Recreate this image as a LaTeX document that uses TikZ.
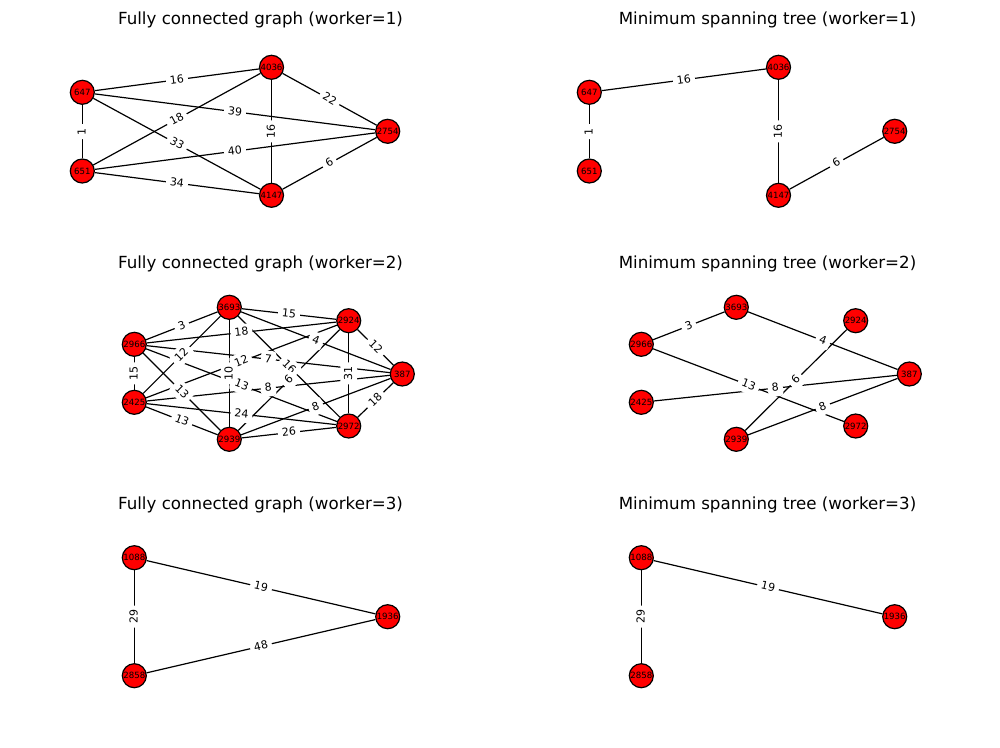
\documentclass[tikz,border=0pt]{standalone}
\usepackage{fontspec}
\setmainfont{DejaVu Sans}
\begin{document}
\begin{tikzpicture}[x=1pt,y=-1pt,
  vtx/.style={circle, draw=black, fill=red, line width=1.2pt, minimum size=24pt,
    inner sep=0pt, font=\fontsize{8.6}{8.6}\selectfont},
  link/.style={line width=1.2pt},
  wlbl/.style={fill=white, rounded corners=3pt, inner xsep=4pt, inner ysep=3.5pt,
    text height=8.2pt, text depth=1.5pt, font=\fontsize{11}{11}\selectfont, pos=0.5},
  ttl/.style={anchor=base, font=\fontsize{16.67}{20}\selectfont}]
\useasboundingbox (0,0) rectangle (1000,747);

% ---- titles ----
\node[ttl] (t1) at (260.5,24) {Fully connected graph (worker=1)};
\node[ttl] (t2) at (767.5,24) {Minimum spanning tree (worker=1)};
\node[ttl] (t3) at (260.5,268) {Fully connected graph (worker=2)};
\node[ttl] (t4) at (767.5,268) {Minimum spanning tree (worker=2)};
\node[ttl] (t5) at (260.5,509) {Fully connected graph (worker=3)};
\node[ttl] (t6) at (767.5,509) {Minimum spanning tree (worker=3)};

% ---- worker 1, complete graph ----
\node[vtx] (a647) at (82.3,92.3) {647};
\node[vtx] (a4036) at (271.5,67.3) {4036};
\node[vtx] (a2754) at (387.7,131.3) {2754};
\node[vtx] (a651) at (82.3,171) {651};
\node[vtx] (a4147) at (271.5,195.3) {4147};
\foreach \u/\v in {a647/a4036, a647/a651, a647/a2754, a647/a4147, a4036/a651,
  a4036/a4147, a4036/a2754, a651/a2754, a651/a4147, a2754/a4147}
  \draw[link] (\u) -- (\v);
\foreach \u/\v/\w in {a647/a4036/16, a647/a2754/39, a647/a4147/33, a4036/a651/18,
  a4036/a2754/22, a651/a2754/40, a651/a4147/34, a2754/a4147/6}
  \path (\u) -- node[wlbl, sloped] {\w} (\v);
\path (a651) -- node[wlbl, rotate=90] {1} (a647);
\path (a4147) -- node[wlbl, rotate=90] {16} (a4036);

% ---- worker 1, spanning tree ----
\node[vtx] (b647) at (589.3,92.3) {647};
\node[vtx] (b4036) at (778.5,67.3) {4036};
\node[vtx] (b2754) at (894.7,131.3) {2754};
\node[vtx] (b651) at (589.3,171) {651};
\node[vtx] (b4147) at (778.5,195.3) {4147};
\foreach \u/\v in {b647/b651, b647/b4036, b4036/b4147, b4147/b2754}
  \draw[link] (\u) -- (\v);
\path (b647) -- node[wlbl, sloped] {16} (b4036);
\path (b4147) -- node[wlbl, sloped] {6} (b2754);
\path (b651) -- node[wlbl, rotate=90] {1} (b647);
\path (b4147) -- node[wlbl, rotate=90] {16} (b4036);

% ---- worker 2, complete graph ----
\node[vtx] (c3693) at (229.3,307.3) {3693};
\node[vtx] (c2924) at (348.7,320.7) {2924};
\node[vtx] (c2966) at (134.3,344.3) {2966};
\node[vtx] (c387) at (402.3,374) {387};
\node[vtx] (c2425) at (134.3,402.3) {2425};
\node[vtx] (c2972) at (348.7,426) {2972};
\node[vtx] (c2939) at (229.3,439.3) {2939};
\foreach \u/\v in {c3693/c2924, c3693/c2966, c3693/c387, c3693/c2425, c3693/c2972,
  c3693/c2939, c2924/c2966, c2924/c387, c2924/c2425, c2924/c2972, c2924/c2939,
  c2966/c387, c2966/c2425, c2966/c2972, c2966/c2939, c387/c2425, c387/c2972,
  c387/c2939, c2425/c2972, c2425/c2939, c2972/c2939}
  \draw[link] (\u) -- (\v);
\foreach \u/\v/\w in {c3693/c2924/15, c3693/c2966/3, c3693/c387/4, c3693/c2425/12,
  c3693/c2972/16, c2924/c2966/18, c2924/c387/12, c2924/c2425/12, c2924/c2939/6,
  c2966/c387/7, c2966/c2972/13, c2966/c2939/13, c387/c2425/8, c387/c2972/18,
  c387/c2939/8, c2425/c2972/24, c2425/c2939/13, c2972/c2939/26}
  \path (\u) -- node[wlbl, sloped] {\w} (\v);
\path (c2939) -- node[wlbl, rotate=90] {10} (c3693);
\path (c2972) -- node[wlbl, rotate=90] {31} (c2924);
\path (c2425) -- node[wlbl, rotate=90] {15} (c2966);

% ---- worker 2, spanning tree ----
\node[vtx] (d3693) at (736.3,307.3) {3693};
\node[vtx] (d2924) at (855.7,320.7) {2924};
\node[vtx] (d2966) at (641.3,344.3) {2966};
\node[vtx] (d387) at (909.3,374) {387};
\node[vtx] (d2425) at (641.3,402.3) {2425};
\node[vtx] (d2972) at (855.7,426) {2972};
\node[vtx] (d2939) at (736.3,439.3) {2939};
\foreach \u/\v in {d3693/d2966, d3693/d387, d2966/d2972, d387/d2425, d2924/d2939,
  d387/d2939}
  \draw[link] (\u) -- (\v);
\foreach \u/\v/\w in {d3693/d2966/3, d3693/d387/4, d2966/d2972/13, d387/d2425/8,
  d2924/d2939/6, d387/d2939/8}
  \path (\u) -- node[wlbl, sloped] {\w} (\v);

% ---- worker 3, complete graph ----
\node[vtx] (e1088) at (134.3,557.7) {1088};
\node[vtx] (e1936) at (387.7,616.7) {1936};
\node[vtx] (e2858) at (134.3,675.7) {2858};
\draw[link] (e1088) -- (e1936);
\draw[link] (e1088) -- (e2858);
\draw[link] (e2858) -- (e1936);
\path (e1088) -- node[wlbl, sloped] {19} (e1936);
\path (e2858) -- node[wlbl, sloped] {48} (e1936);
\path (e2858) -- node[wlbl, rotate=90] {29} (e1088);

% ---- worker 3, spanning tree ----
\node[vtx] (f1088) at (641.3,557.7) {1088};
\node[vtx] (f1936) at (894.7,616.7) {1936};
\node[vtx] (f2858) at (641.3,675.7) {2858};
\draw[link] (f1088) -- (f1936);
\draw[link] (f1088) -- (f2858);
\path (f1088) -- node[wlbl, sloped] {19} (f1936);
\path (f2858) -- node[wlbl, rotate=90] {29} (f1088);
\end{tikzpicture}
\end{document}
